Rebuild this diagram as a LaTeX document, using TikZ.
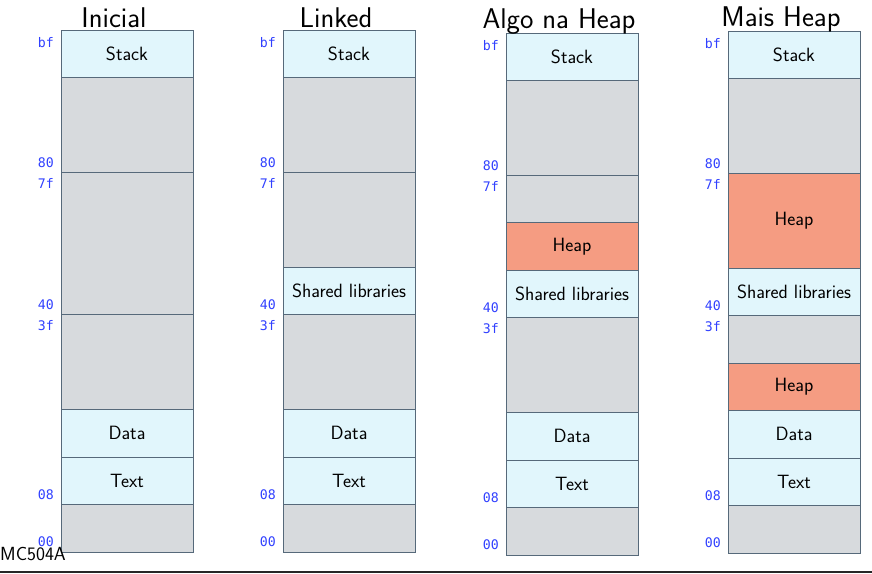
\documentclass[tikz,border=0pt]{standalone}
\usepackage{fontspec}
\newfontfamily\addrfont{DejaVu Sans Mono}
\usepackage{tikz}
\usetikzlibrary{positioning,calc}
\definecolor{cellfree}{HTML}{D7DADD}
\definecolor{cellused}{HTML}{E1F6FC}
\definecolor{cellheap}{HTML}{F59C82}
\definecolor{celledge}{HTML}{56697A}
\definecolor{addrblue}{HTML}{3040FF}
\newcommand\rowh{47.45pt}
\tikzset{
  cell/.style  = {draw=celledge,line width=0.9pt,minimum width=132pt,
                  minimum height=\rowh,inner sep=0pt,outer sep=0pt,
                  font=\fontsize{19.2}{22}\selectfont\sffamily},
  used/.style  = {cell,fill=cellused},
  free/.style  = {cell,fill=cellfree},
  heap/.style  = {cell,fill=cellheap},
  addr/.style  = {font=\fontsize{13.2}{15}\selectfont\addrfont,text=addrblue,
                  inner sep=1.5pt},
  ttl/.style   = {font=\fontsize{28.5}{32}\selectfont\sffamily,anchor=base,
                  inner sep=0pt},
}
\begin{document}
\begin{tikzpicture}[x=1pt,y=-1pt]
  \useasboundingbox (0,0) rectangle (872,573);
  % Inicial
  \coordinate (ini-top) at (61,30);
  \node[used,anchor=north west] (ini-stack) at (ini-top) {Stack};
  \node[free,minimum height=2*\rowh,below=0pt of ini-stack] (ini-g1) {};
  \node[free,minimum height=3*\rowh,below=0pt of ini-g1] (ini-g2) {};
  \node[free,minimum height=2*\rowh,below=0pt of ini-g2] (ini-g3) {};
  \node[used,below=0pt of ini-g3] (ini-data) {Data};
  \node[used,below=0pt of ini-data] (ini-text) {Text};
  \node[free,below=0pt of ini-text] (ini-g4) {};
  \node[ttl] (ini-title) at ($(ini-stack.north)+(-13pt,2.5pt)$) {Inicial};
  % Linked
  \coordinate (lnk-top) at (283,30);
  \node[used,anchor=north west] (lnk-stack) at (lnk-top) {Stack};
  \node[free,minimum height=2*\rowh,below=0pt of lnk-stack] (lnk-g1) {};
  \node[free,minimum height=2*\rowh,below=0pt of lnk-g1] (lnk-g2) {};
  \node[used,below=0pt of lnk-g2] (lnk-shlib) {Shared libraries};
  \node[free,minimum height=2*\rowh,below=0pt of lnk-shlib] (lnk-g3) {};
  \node[used,below=0pt of lnk-g3] (lnk-data) {Data};
  \node[used,below=0pt of lnk-data] (lnk-text) {Text};
  \node[free,below=0pt of lnk-text] (lnk-g4) {};
  \node[ttl] (lnk-title) at ($(lnk-stack.north)+(-13pt,2.5pt)$) {Linked};
  % Algo na Heap
  \coordinate (alg-top) at (506,33);
  \node[used,anchor=north west] (alg-stack) at (alg-top) {Stack};
  \node[free,minimum height=2*\rowh,below=0pt of alg-stack] (alg-g1) {};
  \node[free,below=0pt of alg-g1] (alg-g2) {};
  \node[heap,below=0pt of alg-g2] (alg-heap) {Heap};
  \node[used,below=0pt of alg-heap] (alg-shlib) {Shared libraries};
  \node[free,minimum height=2*\rowh,below=0pt of alg-shlib] (alg-g3) {};
  \node[used,below=0pt of alg-g3] (alg-data) {Data};
  \node[used,below=0pt of alg-data] (alg-text) {Text};
  \node[free,below=0pt of alg-text] (alg-g4) {};
  \node[ttl] (alg-title) at ($(alg-stack.north)+(-13pt,5pt)$) {Algo na Heap};
  % Mais Heap
  \coordinate (mais-top) at (728,31);
  \node[used,anchor=north west] (mais-stack) at (mais-top) {Stack};
  \node[free,minimum height=2*\rowh,below=0pt of mais-stack] (mais-g1) {};
  \node[heap,minimum height=2*\rowh,below=0pt of mais-g1] (mais-heap1) {Heap};
  \node[used,below=0pt of mais-heap1] (mais-shlib) {Shared libraries};
  \node[free,below=0pt of mais-shlib] (mais-g2) {};
  \node[heap,below=0pt of mais-g2] (mais-heap2) {Heap};
  \node[used,below=0pt of mais-heap2] (mais-data) {Data};
  \node[used,below=0pt of mais-data] (mais-text) {Text};
  \node[free,below=0pt of mais-text] (mais-g3) {};
  \node[ttl] (mais-title) at ($(mais-stack.north)+(-13pt,5pt)$) {Mais Heap};
  % addresses
  \foreach \col in {ini,lnk,alg,mais}{
    \node[addr,anchor=north east] (\col-bf) at ($(\col-top)+(-5.5pt,-6pt)$) {bf};
    \node[addr,anchor=base east] (\col-80) at ($(\col-top)+(-5.5pt,{-3*\rowh+5pt})$) {80};
    \node[addr,anchor=base east] (\col-7f) at ($(\col-top)+(-5.5pt,{-3*\rowh-16pt})$) {7f};
    \node[addr,anchor=base east] (\col-40) at ($(\col-top)+(-5.5pt,{-6*\rowh+5pt})$) {40};
    \node[addr,anchor=base east] (\col-3f) at ($(\col-top)+(-5.5pt,{-6*\rowh-16pt})$) {3f};
    \node[addr,anchor=base east] (\col-08) at ($(\col-top)+(-5.5pt,{-10*\rowh+5.5pt})$) {08};
    \node[addr,anchor=base east] (\col-00) at ($(\col-top)+(-5.5pt,{-11*\rowh+5pt})$) {00};
  }
  % footer
  \node[anchor=base west,inner sep=0pt,font=\fontsize{19}{22}\selectfont\sffamily]
       (course) at (0,560) {MC504A};
  \coordinate (rule-l) at (0,572);
  \coordinate (rule-r) at (872,572);
  \draw[line width=1.4pt,black!85] (rule-l) -- (rule-r);
\end{tikzpicture}
\end{document}
